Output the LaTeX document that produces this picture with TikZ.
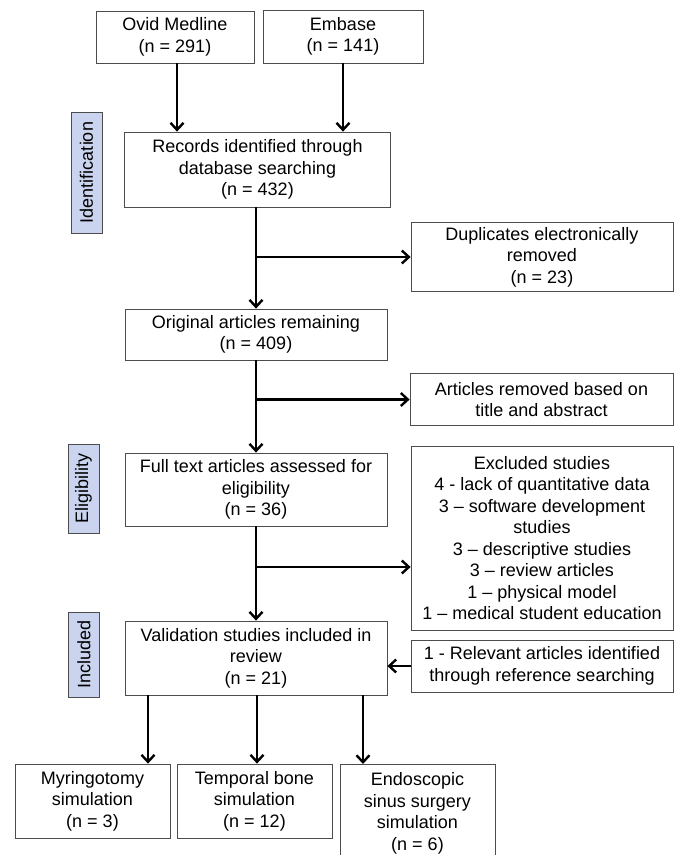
\documentclass[tikz,border=0pt]{standalone}
\usepackage{fontspec}
\setmainfont{Liberation Sans}
\usepackage{xcolor}
\usetikzlibrary{arrows.meta}
\definecolor{phaseblue}{HTML}{CAD4EE}

\begin{document}
\begin{tikzpicture}[x=1pt, y=-1pt, font=\fontsize{18}{21.5}\selectfont,
  >={Straight Barb[length=7pt, width=13pt]},
  box/.style={draw=black!70, line width=0.8pt, align=center, inner sep=2pt},
  phase/.style={draw=black!70, fill=phaseblue, line width=0.8pt, rotate=90,
    minimum height=31pt, inner sep=0pt},
  flow/.style={->, line width=2.4pt}]
  \useasboundingbox (0,0) rectangle (679,855);
  % phases
  \node[phase, minimum width=121pt] (ident) at (86.5,172.5) {Identification};
  \node[phase, minimum width=89pt] (elig) at (83.5,488.5) {Eligibility};
  \node[phase, minimum width=85pt] (incl) at (84,654.5) {Included};
  % main column
  \node[box, minimum width=158pt, minimum height=52pt] (ovid) at (175,37) {Ovid Medline\\(n = 291)};
  \node[box, minimum width=160pt, minimum height=53pt] (embase) at (343,36.5) {Embase\\(n = 141)};
  \node[box, minimum width=266pt, minimum height=75pt] (records) at (257.5,169.5)
    {Records identified through\\database searching\\(n = 432)};
  \node[box, minimum width=262pt, minimum height=51pt] (orig) at (256,334.5)
    {Original articles remaining\\(n = 409)};
  \node[box, minimum width=262pt, minimum height=73pt] (full) at (256,489.5)
    {Full text articles assessed for\\eligibility\\(n = 36)};
  \node[box, minimum width=262pt, minimum height=74pt] (valid) at (256,658)
    {Validation studies included in\\review\\(n = 21)};
  % side column
  \node[box, minimum width=262pt, minimum height=69pt] (dupl) at (542,257)
    {Duplicates electronically\\removed\\(n = 23)};
  \node[box, minimum width=263pt, minimum height=52pt] (removed) at (541.5,399.5)
    {Articles removed based on\\title and abstract};
  \node[box, minimum width=262pt, minimum height=184pt] (excl) at (542,538)
    {Excluded studies\\4 - lack of quantitative data\\3 – software development\\studies\\3 – descriptive studies\\3 – review articles\\1 – physical model\\1 – medical student education};
  \node[box, minimum width=262pt, minimum height=52pt] (relev) at (542,666)
    {1 - Relevant articles identified\\through reference searching};
  % outcomes
  \node[box, minimum width=155pt, minimum height=74pt] (myr) at (92.5,801)
    {Myringotomy\\simulation\\(n = 3)};
  \node[box, minimum width=155pt, minimum height=74pt] (temp) at (254.5,801)
    {Temporal bone\\simulation\\(n = 12)};
  \node[box, minimum width=155pt, minimum height=98pt, anchor=north] (endo) at (417.5,764)
    {Endoscopic\\sinus surgery\\simulation\\(n = 6)};
  % connectors
  \draw[flow] (ovid.south -| 177,0) -- (records.north -| 177,0);
  \draw[flow] (embase.south) -- (embase.south |- records.north);
  \draw[flow] (records.south -| orig.north) -- (orig.north);
  \draw[flow] (records.south -| 256,0) |- (dupl.west);
  \draw[flow] (orig) -- (full);
  \draw[flow] (orig.south) |- (removed.west);
  \draw[flow] (full) -- (valid);
  \coordinate (exj) at (256,567);
  \draw[flow] (full.south |- exj) -- (exj -| excl.west);
  \draw[flow] (relev.west) -- (relev.west -| valid.east);
  \foreach \x/\t in {148/myr, 257/temp, 363/endo}
    \draw[flow] (valid.south -| \x,0) -- (\t.north -| \x,0);
\end{tikzpicture}
\end{document}
